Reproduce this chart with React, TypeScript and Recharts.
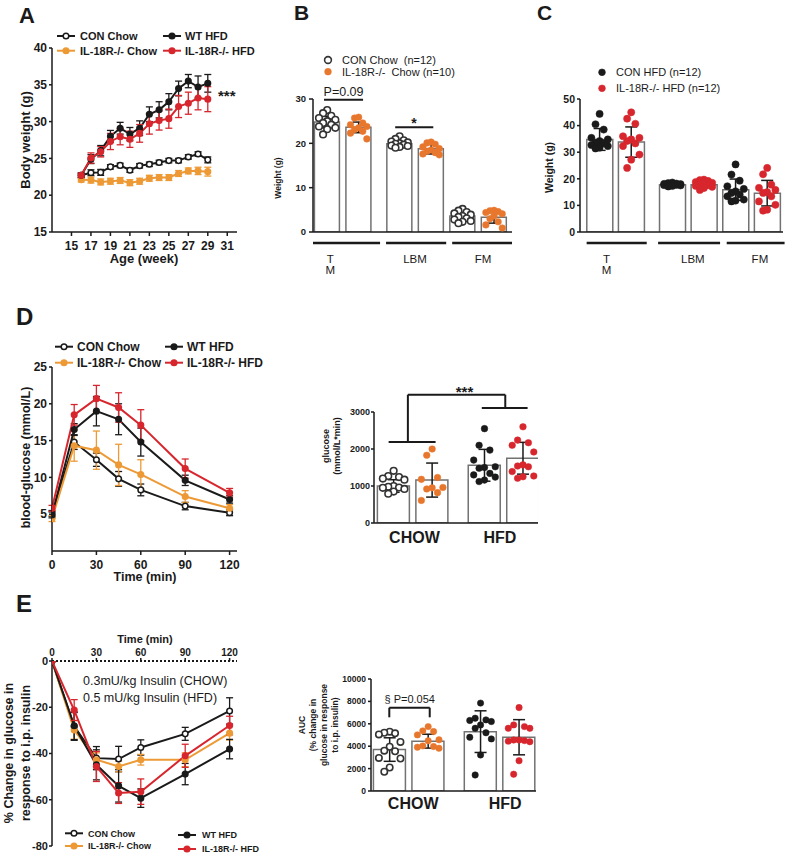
import React from 'react';
import {
  LineChart, Line, ComposedChart, Bar, Scatter, XAxis, YAxis, ErrorBar,
  ReferenceLine, ReferenceDot,
} from 'recharts';

const FONT = '"Liberation Sans", Arial, sans-serif';
const INK = '#1a1a1a';
const ORANGE = '#ED9A36';
const ORANGE_DOT = '#E8772E';
const RED = '#D7262D';
const EDGE = '#727272';

// A: body weight by age
const weeks = [16, 17, 18, 19, 20, 21, 22, 23, 24, 25, 26, 27, 28, 29];
const weekTicks = [15, 17, 19, 21, 23, 25, 27, 29, 31];
const bwConChow = [22.7, 23.05, 23.1, 23.85, 24.05, 23.4, 24.0, 24.2, 24.45, 24.7, 24.7, 25.2, 25.6, 24.8];
const bwConChowSe = [0.3, 0.4, 0.4, 0.3, 0.3, 0.3, 0.3, 0.3, 0.3, 0.3, 0.3, 0.3, 0.3, 0.4];
const bwKoChow = [22.1, 22.05, 21.8, 21.9, 22.0, 21.7, 21.9, 22.3, 22.4, 22.4, 22.95, 23.3, 23.3, 23.2];
const bwKoChowSe = [0.3, 0.4, 0.4, 0.4, 0.4, 0.4, 0.4, 0.4, 0.4, 0.4, 0.4, 0.4, 0.5, 0.6];
const bwWtHfd = [22.7, 24.9, 26.05, 28.0, 29.1, 28.3, 29.1, 31.0, 31.6, 32.7, 34.5, 35.5, 34.7, 35.2];
const bwWtHfdSe = [0.3, 0.6, 0.7, 0.8, 0.8, 0.9, 1.0, 1.0, 1.1, 1.1, 1.0, 0.9, 1.5, 1.2];
const bwKoHfd = [22.7, 25.05, 25.9, 27.3, 27.95, 27.6, 28.4, 29.7, 30.15, 30.4, 32.05, 32.5, 33.2, 33.05];
const bwKoHfdSe = [0.3, 0.7, 0.7, 1.1, 1.1, 1.1, 1.2, 1.4, 1.3, 1.3, 1.5, 1.5, 1.6, 1.7];

// D: glucose tolerance
const minutes = [0, 15, 30, 45, 60, 90, 120];
const minTicks = [0, 30, 60, 90, 120];
const gttConChow = [5.1, 14.8, 12.4, 9.8, 8.3, 6.1, 5.2];
const gttConChowSe = [0.4, 1.0, 0.9, 1.0, 0.8, 0.5, 0.4];
const gttKoChow = [4.4, 14.3, 13.7, 11.7, 10.4, 7.4, 5.8];
const gttKoChowSe = [0.4, 2.1, 2.6, 2.8, 2.0, 0.8, 0.5];
const gttWtHfd = [4.9, 16.5, 19.0, 17.9, 14.8, 9.6, 7.0];
const gttWtHfdSe = [0.4, 0.8, 2.0, 2.1, 1.9, 0.7, 0.5];
const gttKoHfd = [5.8, 18.5, 20.7, 19.5, 17.1, 11.2, 7.9];
const gttKoHfdSe = [0.4, 1.4, 1.8, 2.0, 2.1, 1.3, 0.6];

// E: insulin tolerance (% change)
const ittConChow = [0, -28.3, -42, -42.4, -37.4, -31.5, -21.6];
const ittConChowSe = [0, 6, 5, 5.5, 3.3, 2.8, 5.7];
const ittKoChow = [0, -29.8, -42.7, -45.6, -42.7, -42.7, -31.2];
const ittKoChowSe = [0, 4, 3, 2.3, 2.3, 3, 3];
const ittWtHfd = [0, -28, -44.9, -54, -59.3, -48.9, -38.1];
const ittWtHfdSe = [0, 6, 6.5, 7, 4, 4.6, 4.2];
const ittKoHfd = [0, -21.2, -45.6, -57.1, -56.5, -41, -27.9];
const ittKoHfdSe = [0, 4.5, 6.5, 4.5, 5.5, 5, 4];

// B / C: body composition (TM, LBM, FM; control then knockout)
const compPos = [1, 2, 3.3, 4.3, 5.3, 6.3];
const chowMeans = [24.8, 23.6, 19.9, 18.8, 3.6, 3.3];
const chowSd = [1.3, 1.2, 0.7, 1.2, 0.9, 1.3];
const chowDots = [
  [27.5, 26.8, 26.2, 25.7, 25.3, 25.0, 24.6, 24.2, 23.8, 23.5, 23.2, 22.0],
  [25.9, 25.7, 24.6, 24.2, 23.8, 23.5, 23.1, 22.7, 22.3, 21.0],
  [21.6, 21.0, 20.7, 20.4, 20.2, 20.0, 19.9, 19.7, 19.5, 19.4, 19.2, 19.0],
  [20.3, 20.1, 19.8, 19.2, 18.8, 18.5, 18.2, 17.9, 17.6, 17.4],
  [5.2, 4.8, 4.5, 4.2, 3.9, 3.6, 3.4, 3.1, 2.8, 2.5, 2.3, 2.0],
  [4.9, 4.8, 4.6, 4.4, 4.1, 3.6, 3.0, 2.3, 1.6, 0.9],
];
const hfdMeans = [34.8, 33.8, 17.8, 17.8, 15.9, 14.6];
const hfdSd = [4.1, 5.7, 0.5, 1.1, 4.0, 4.8];
const hfdDots = [
  [44.4, 40.5, 38.5, 35.4, 34.8, 34.2, 33.5, 33.3, 32.7, 32.3, 31.7, 31.4],
  [45.0, 42.6, 40.7, 36.0, 35.4, 34.8, 34.2, 33.3, 32.3, 29.1, 27.2, 24.1],
  [18.6, 18.4, 18.2, 18.1, 18.0, 17.9, 17.8, 17.7, 17.6, 17.5, 17.3, 17.1],
  [19.7, 19.5, 19.2, 18.8, 18.5, 18.2, 17.9, 17.6, 17.3, 17.0, 16.5, 15.8],
  [25.4, 21.6, 19.3, 17.2, 16.2, 15.3, 14.7, 14.1, 13.4, 12.2, 11.8, 11.5],
  [24.1, 21.7, 17.8, 16.6, 15.8, 15.0, 14.7, 13.4, 11.5, 10.2, 8.4, 8.0],
];

// D right / E right: AUC (CHOW con, CHOW ko, HFD wt, HFD ko)
const aucPos = [1, 2, 3.36, 4.36];
const gttAucMeans = [1000, 1160, 1560, 1750];
const gttAucSd = [170, 460, 430, 430];
const gttAucDots = [
  [1410, 1270, 1240, 1200, 1170, 1000, 980, 960, 950, 920, 850, 790],
  [2000, 1830, 1230, 1180, 960, 950, 920, 820, 610],
  [2550, 2100, 1970, 1700, 1520, 1500, 1480, 1340, 1300, 1240, 1160, 1120],
  [2600, 2240, 2170, 2100, 1920, 1570, 1540, 1520, 1390, 1270, 1250, 1210],
];
const ittAucMeans = [3700, 4450, 5300, 4800];
const ittAucSd = [1050, 620, 1860, 1570];
const ittAucDots = [
  [5300, 5200, 5150, 5050, 4380, 3950, 3600, 3550, 2950, 2900, 2100, 1720],
  [5750, 5370, 5310, 5010, 4570, 4480, 4030, 3970, 3910, 3820],
  [7850, 6500, 6350, 6300, 6200, 5900, 5600, 5200, 4800, 4650, 3220, 1430],
  [7450, 5900, 5750, 5600, 5600, 4550, 4550, 4500, 4450, 4400, 2700, 1500],
];

const SERIES = [
  { key: 'conChow', color: INK, open: true },
  { key: 'koChow', color: ORANGE, open: false },
  { key: 'wtHfd', color: INK, open: false },
  { key: 'koHfd', color: RED, open: false },
];

const lineRows = (t: number[], cols: Record<string, number[]>) =>
  t.map((x, i) => {
    const row: Record<string, number> = { t: x };
    Object.keys(cols).forEach(k => { row[k] = cols[k][i]; });
    return row;
  });

const bwData = lineRows(weeks, {
  conChow: bwConChow, conChowSe: bwConChowSe, koChow: bwKoChow, koChowSe: bwKoChowSe,
  wtHfd: bwWtHfd, wtHfdSe: bwWtHfdSe, koHfd: bwKoHfd, koHfdSe: bwKoHfdSe,
});
const gttData = lineRows(minutes, {
  conChow: gttConChow, conChowSe: gttConChowSe, koChow: gttKoChow, koChowSe: gttKoChowSe,
  wtHfd: gttWtHfd, wtHfdSe: gttWtHfdSe, koHfd: gttKoHfd, koHfdSe: gttKoHfdSe,
});
const ittData = lineRows(minutes, {
  conChow: ittConChow, conChowSe: ittConChowSe, koChow: ittKoChow, koChowSe: ittKoChowSe,
  wtHfd: ittWtHfd, wtHfdSe: ittWtHfdSe, koHfd: ittKoHfd, koHfdSe: ittKoHfdSe,
});

const axisLine = { stroke: INK, strokeWidth: 1.5 };
const tickFont = (size: number) => ({ fontFamily: FONT, fontSize: size, fontWeight: 700, fill: INK });

const drawSeries = () => SERIES.map(s => (
  <Line key={s.key} type="linear" dataKey={s.key} stroke={s.color} strokeWidth={2}
    isAnimationActive={false} activeDot={false}
    dot={{ r: 2.8, fill: s.open ? '#fff' : s.color, stroke: s.color, strokeWidth: 1.5 }}>
    <ErrorBar dataKey={`${s.key}Se`} direction="y" width={3.5} strokeWidth={1.3} stroke={s.color} />
  </Line>
));

// beeswarm-ish spread of the dots around their bar
const JIT = [0, -1, 1, -2, 2];
const swarm = (x: number, vals: number[], step: number) =>
  vals.map((v, i) => ({ x: x + JIT[i % 5] * step, y: v }));

type Look = { color: string; open: boolean };
const OPEN: Look = { color: '#333', open: true };
const look = (color: string): Look => ({ color, open: false });

const dotShape = (lk: Look, r: number) => (p: any) => (
  <circle cx={p.cx} cy={p.cy} r={r} fill={lk.open ? '#fff' : lk.color}
    stroke={lk.color} strokeWidth={lk.open ? 1.6 : 0.5} />
);

const textShape = (text: string, dy: number, size: number, bold: boolean) => (p: any) => (
  <text x={p.cx} y={p.cy + dy} textAnchor="middle" fontFamily={FONT} fontSize={size}
    fontWeight={bold ? 700 : 400} fill={INK}>{text}</text>
);

const underShape = (dy: number) => (p: any) => (
  <line x1={p.x1} x2={p.x2} y1={p.y1 + dy} y2={p.y2 + dy} stroke={INK} strokeWidth={2.5} />
);

const seg = (x1: number, y1: number, x2: number, y2: number, key: string) => (
  <ReferenceLine key={key} segment={[{ x: x1, y: y1 }, { x: x2, y: y2 }]} ifOverflow="visible"
    stroke={INK} strokeWidth={2} />
);

type BarCfg = {
  pos: number[]; means: number[]; sds: number[]; dots: number[][]; looks: Look[];
  xDomain: [number, number]; yDomain: [number, number]; yTicks: number[];
  w: number; h: number; margin: any; yw: number; xh: number; barSize: number;
  tickSize: number; tickMargin: number; tickSize2: number; jitter: number; r: number; capW: number;
};

const barPanel = (cfg: BarCfg, extras: React.ReactNode) => {
  const rows = cfg.pos.map((x, i) => ({ x, mean: cfg.means[i], sd: cfg.sds[i] }));
  return (
    <ComposedChart width={cfg.w} height={cfg.h} data={rows} margin={cfg.margin}>
      <XAxis dataKey="x" type="number" domain={cfg.xDomain} ticks={cfg.pos} interval={0}
        tick={false} tickSize={4} height={cfg.xh} axisLine={axisLine} tickLine={axisLine} allowDataOverflow />
      <XAxis xAxisId="d" dataKey="x" type="number" domain={cfg.xDomain} hide allowDataOverflow />
      <YAxis type="number" domain={cfg.yDomain} ticks={cfg.yTicks} interval={0} width={cfg.yw}
        axisLine={axisLine} tickLine={axisLine} tickSize={cfg.tickSize} tickMargin={cfg.tickMargin}
        tick={tickFont(cfg.tickSize2)} allowDataOverflow />
      <Bar dataKey="mean" barSize={cfg.barSize} fill="#fff" stroke={EDGE} strokeWidth={1.5}
        isAnimationActive={false} />
      {cfg.dots.map((vals, i) => (
        <Scatter key={`s${i}`} xAxisId="d" data={swarm(cfg.pos[i], vals, cfg.jitter)} dataKey="y"
          isAnimationActive={false} shape={dotShape(cfg.looks[i], cfg.r)} />
      ))}
      <Scatter data={rows} dataKey="mean" isAnimationActive={false} shape={() => <g />}>
        <ErrorBar dataKey="sd" direction="y" width={cfg.capW} strokeWidth={1.5} stroke={INK} />
      </Scatter>
      {extras}
    </ComposedChart>
  );
};

// layout of group labels (data units on the x axis)
const bUnder = [[0.55, 2.68], [2.87, 4.78], [4.97, 6.87]];
const bLabels = [{ x: 1.1, t: ['T', 'M'] }, { x: 3.79, t: ['LBM'] }, { x: 5.95, t: ['FM'] }];
const cUnder = [[0.59, 2.49], [2.85, 4.81], [5.02, 6.85]];
const cLabels = [{ x: 1.22, t: ['T', 'M'] }, { x: 3.95, t: ['LBM'] }, { x: 6.07, t: ['FM'] }];

const compExtras = (under: number[][], labels: { x: number; t: string[] }[]) => [
  ...under.map((u, i) => (
    <ReferenceLine key={`u${i}`} segment={[{ x: u[0], y: 0 }, { x: u[1], y: 0 }]} ifOverflow="visible"
      shape={underShape(11)} />
  )),
  ...labels.flatMap((l, i) => l.t.map((s, j) => (
    <ReferenceDot key={`l${i}${j}`} x={l.x} y={0} ifOverflow="visible" shape={textShape(s, 31 + j * 11, 11.5, false)} />
  ))),
];

const Txt = (p: { x: number; y: number; size: number; bold?: boolean; anchor?: any; children: React.ReactNode }) => (
  <text x={p.x} y={p.y} fontSize={p.size} fontWeight={p.bold ? 700 : 400} textAnchor={p.anchor || 'start'}
    fill={INK} fontFamily={FONT} xmlSpace="preserve" style={{ whiteSpace: 'pre' }}>{p.children}</text>
);

const VTxt = (p: { x: number; y: number; size: number; children: React.ReactNode }) => (
  <text transform={`translate(${p.x},${p.y}) rotate(-90)`} textAnchor="middle" dominantBaseline="central"
    fontSize={p.size} fontWeight={700} fill={INK} fontFamily={FONT}>{p.children}</text>
);

const Key = (p: { x: number; y: number; color: string; open?: boolean; label: string; size: number; gap: number }) => (
  <g>
    <line x1={p.x} y1={p.y} x2={p.x + 18} y2={p.y} stroke={p.color} strokeWidth={2} />
    <circle cx={p.x + 9} cy={p.y} r={2.8} fill={p.open ? '#fff' : p.color} stroke={p.color} strokeWidth={1.5} />
    <text x={p.x + p.gap} y={p.y + p.size * 0.36} fontSize={p.size} fontWeight={700} fill={INK} fontFamily={FONT}>{p.label}</text>
  </g>
);

const DotKey = (p: { x: number; y: number; lk: Look; label: string }) => (
  <g>
    <circle cx={p.x} cy={p.y} r={3.4} fill={p.lk.open ? '#fff' : p.lk.color} stroke={p.lk.color} strokeWidth={p.lk.open ? 1.6 : 0.5} />
    <text x={p.x + 14} y={p.y + 4} fontSize={11} fill={INK} fontFamily={FONT} xmlSpace="preserve" style={{ whiteSpace: 'pre' }}>{p.label}</text>
  </g>
);

const abs = (left: number, top: number): React.CSSProperties => ({ position: 'absolute', left, top });

export default function App() {
  return (
    <div style={{ position: 'absolute', left: 0, top: 0, width: 787, height: 854, background: '#fff', fontFamily: FONT }}>
      {/* A */}
      <div style={abs(12, 42)}>
        <LineChart width={237} height={214} data={bwData} margin={{ top: 6, right: 12, bottom: 4, left: 0 }}>
          <XAxis dataKey="t" type="number" domain={[13, 32]} ticks={weekTicks} interval={0} height={20}
            axisLine={axisLine} tickLine={axisLine} tickSize={4} tickMargin={5} tick={tickFont(12)} allowDataOverflow />
          <YAxis type="number" domain={[15, 40]} ticks={[15, 20, 25, 30, 35, 40]} interval={0} width={40}
            axisLine={axisLine} tickLine={axisLine} tickSize={3} tickMargin={2} tick={tickFont(12)} allowDataOverflow />
          {drawSeries()}
        </LineChart>
      </div>

      {/* B */}
      <div style={abs(278, 79)}>
        {barPanel({
          pos: compPos, means: chowMeans, sds: chowSd, dots: chowDots,
          looks: [OPEN, look(ORANGE_DOT), OPEN, look(ORANGE_DOT), OPEN, look(ORANGE_DOT)],
          xDomain: [0.55, 6.87], yDomain: [0, 30], yTicks: [0, 10, 20, 30],
          w: 240, h: 203, margin: { top: 20, right: 6, bottom: 2, left: 0 }, yw: 35, xh: 48, barSize: 25,
          tickSize: 4, tickMargin: 3, tickSize2: 9.5, jitter: 0.13, r: 3.3, capW: 6,
        }, [
          ...compExtras(bUnder, bLabels),
          seg(0.9, 29.85, 2.14, 29.85, 'p1'),
          <ReferenceDot key="p1t" x={1.52} y={29.85} ifOverflow="visible" shape={textShape('P=0.09', -4, 12.5, false)} />,
          seg(3.16, 23.6, 4.37, 23.6, 'p2'),
          <ReferenceDot key="p2t" x={3.76} y={23.6} ifOverflow="visible" shape={textShape('*', 1, 14, true)} />,
        ])}
      </div>

      {/* C */}
      <div style={abs(545, 79)}>
        {barPanel({
          pos: compPos, means: hfdMeans, sds: hfdSd, dots: hfdDots,
          looks: [look(INK), look(RED), look(INK), look(RED), look(INK), look(RED)],
          xDomain: [0.38, 6.8], yDomain: [0, 50], yTicks: [0, 10, 20, 30, 40, 50],
          w: 241, h: 203, margin: { top: 20, right: 3, bottom: 2, left: 0 }, yw: 35, xh: 48, barSize: 26,
          tickSize: 3, tickMargin: 2, tickSize2: 10.5, jitter: 0.13, r: 3.6, capW: 6,
        }, compExtras(cUnder, cLabels))}
      </div>

      {/* D left */}
      <div style={abs(12, 361)}>
        <LineChart width={237} height={214} data={gttData} margin={{ top: 6, right: 12, bottom: 4, left: 0 }}>
          <XAxis dataKey="t" type="number" domain={[0, 125]} ticks={minTicks} interval={0} height={20}
            axisLine={axisLine} tickLine={axisLine} tickSize={4} tickMargin={5} tick={tickFont(12)} allowDataOverflow />
          <YAxis type="number" domain={[0, 25]} ticks={[5, 10, 15, 20, 25]} interval={0} width={40}
            axisLine={axisLine} tickLine={axisLine} tickSize={3} tickMargin={2} tick={tickFont(12)} allowDataOverflow />
          {drawSeries()}
        </LineChart>
      </div>

      {/* D right */}
      <div style={abs(344, 372)}>
        {barPanel({
          pos: aucPos, means: gttAucMeans, sds: gttAucSd, dots: gttAucDots,
          looks: [OPEN, look(ORANGE_DOT), look(INK), look(RED)],
          xDomain: [0.49, 4.75], yDomain: [0, 3000], yTicks: [0, 1000, 2000, 3000],
          w: 200, h: 183, margin: { top: 40, right: 6, bottom: 2, left: 0 }, yw: 30, xh: 30, barSize: 32,
          tickSize: 3, tickMargin: 1, tickSize2: 9, jitter: 0.14, r: 3.3, capW: 6,
        }, [
          <ReferenceDot key="g1" x={1.54} y={0} ifOverflow="visible" shape={textShape('CHOW', 20, 16, true)} />,
          <ReferenceDot key="g2" x={3.76} y={0} ifOverflow="visible" shape={textShape('HFD', 20, 16, true)} />,
          seg(0.87, 2190, 2.09, 2190, 'b1'),
          seg(1.37, 2190, 1.37, 3468, 'b2'),
          seg(1.37, 3468, 3.9, 3468, 'b3'),
          seg(3.9, 3468, 3.9, 3108, 'b4'),
          seg(3.29, 3108, 4.48, 3108, 'b5'),
          <ReferenceDot key="b6" x={2.84} y={3468} ifOverflow="visible" shape={textShape('***', 2, 15, true)} />,
        ])}
      </div>

      {/* E left */}
      <div style={abs(12, 637)}>
        <LineChart width={237} height={215} data={ittData} margin={{ top: 4, right: 12, bottom: 6, left: 0 }}>
          <XAxis dataKey="t" type="number" orientation="top" domain={[0, 125]} ticks={minTicks} interval={0} height={20}
            axisLine={{ stroke: INK, strokeWidth: 2, strokeDasharray: '2 2' }} tickLine={axisLine}
            tickSize={3} tickMargin={2} tick={tickFont(10)} allowDataOverflow />
          <YAxis type="number" domain={[-80, 0]} ticks={[0, -20, -40, -60, -80]} interval={0} width={40}
            axisLine={axisLine} tickLine={axisLine} tickSize={3} tickMargin={1} tick={tickFont(11)} allowDataOverflow />
          {drawSeries()}
        </LineChart>
      </div>

      {/* E right */}
      <div style={abs(341, 671)}>
        {barPanel({
          pos: aucPos, means: ittAucMeans, sds: ittAucSd, dots: ittAucDots,
          looks: [OPEN, look(ORANGE_DOT), look(INK), look(RED)],
          xDomain: [0.515, 4.8], yDomain: [0, 10000], yTicks: [0, 2000, 4000, 6000, 8000, 10000],
          w: 201, h: 150, margin: { top: 8, right: 6, bottom: 2, left: 0 }, yw: 30, xh: 28, barSize: 32,
          tickSize: 3, tickMargin: 2, tickSize2: 8.5, jitter: 0.14, r: 3.2, capW: 6,
        }, [
          <ReferenceDot key="g1" x={1.61} y={0} ifOverflow="visible" shape={textShape('CHOW', 18, 16, true)} />,
          <ReferenceDot key="g2" x={4.0} y={0} ifOverflow="visible" shape={textShape('HFD', 18, 16, true)} />,
          seg(0.99, 7437, 2.04, 7437, 'e1'),
          seg(0.99, 7437, 0.99, 6580, 'e2'),
          seg(2.04, 7437, 2.04, 6580, 'e3'),
          <ReferenceDot key="e4" x={1.52} y={7437} ifOverflow="visible" shape={textShape('§ P=0.054', -5, 11, false)} />,
        ])}
      </div>

      {/* letters, legends, axis titles */}
      <svg width={787} height={854} style={{ position: 'absolute', left: 0, top: 0, pointerEvents: 'none' }}>
        <Txt x={19} y={23} size={22} bold>A</Txt>
        <Txt x={294} y={20} size={21} bold>B</Txt>
        <Txt x={537} y={20} size={21} bold>C</Txt>
        <Txt x={16} y={325} size={24} bold>D</Txt>
        <Txt x={16} y={612} size={24} bold>E</Txt>

        <Key x={57} y={36} color={INK} open label="CON Chow" size={11} gap={23} />
        <Key x={57} y={50.7} color={ORANGE} label="IL-18R-/- Chow" size={11} gap={23} />
        <Key x={163} y={36} color={INK} label="WT HFD" size={11} gap={22} />
        <Key x={163} y={50.7} color={RED} label="IL-18R-/- HFD" size={11} gap={22} />
        <Txt x={218} y={100.5} size={15} bold>***</Txt>
        <VTxt x={25} y={140} size={13}>Body weight (g)</VTxt>
        <Txt x={144} y={263} size={13} bold anchor="middle">Age (week)</Txt>

        <DotKey x={328} y={60} lk={OPEN} label="CON Chow  (n=12)" />
        <DotKey x={328} y={71.7} lk={look(ORANGE_DOT)} label="IL-18R-/-  Chow (n=10)" />
        <VTxt x={278} y={178} size={8.5}>Weight (g)</VTxt>

        <DotKey x={602} y={72.3} lk={look(INK)} label="CON HFD (n=12)" />
        <DotKey x={602} y={88.3} lk={look(RED)} label="IL-18R-/- HFD (n=12)" />
        <VTxt x={549} y={167.5} size={10.5}>Weight (g)</VTxt>

        <Key x={55} y={346.7} color={INK} open label="CON Chow" size={12} gap={22} />
        <Key x={55} y={362.7} color={ORANGE} label="IL-18R-/- Chow" size={12} gap={22} />
        <Key x={165} y={346.7} color={INK} label="WT HFD" size={12} gap={22} />
        <Key x={165} y={362.7} color={RED} label="IL-18R-/- HFD" size={12} gap={22} />
        <VTxt x={26} y={457.5} size={12.5}>blood-glucose (mmol/L)</VTxt>
        <Txt x={145} y={581} size={12.5} bold anchor="middle">Time (min)</Txt>

        <VTxt x={326} y={446} size={9}>glucose</VTxt>
        <VTxt x={337} y={446} size={9}>(mmol/L*min)</VTxt>

        <Txt x={145} y={643} size={11} bold anchor="middle">Time (min)</Txt>
        <Txt x={83} y={684.5} size={12.5}>0.3mU/kg Insulin (CHOW)</Txt>
        <Txt x={83} y={702} size={12.5}>0.5 mU/kg Insulin (HFD)</Txt>
        <VTxt x={9} y={753} size={12.5}>% Change in glucose in</VTxt>
        <VTxt x={26} y={753} size={12.5}>response to i.p. insulin</VTxt>
        <Key x={65} y={833.3} color={INK} open label="CON Chow" size={9} gap={23} />
        <Key x={65} y={846} color={ORANGE} label="IL-18R-/- Chow" size={9} gap={23} />
        <Key x={178} y={835} color={INK} label="WT HFD" size={9} gap={24} />
        <Key x={178} y={849} color={RED} label="IL-18R-/- HFD" size={9} gap={24} />

        <VTxt x={302} y={725} size={8.5}>AUC</VTxt>
        <VTxt x={313} y={725} size={8.5}>(% change in</VTxt>
        <VTxt x={324} y={725} size={8.5}>glucose in response</VTxt>
        <VTxt x={335} y={725} size={8.5}>to i.p. insulin)</VTxt>
      </svg>
    </div>
  );
}
